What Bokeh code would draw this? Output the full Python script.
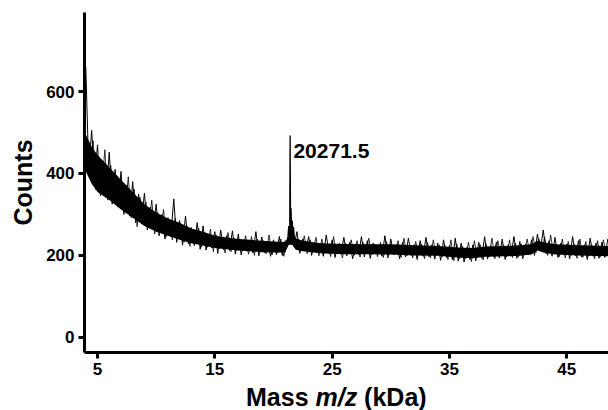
import numpy as np
from bokeh.plotting import figure
from bokeh.layouts import column
from bokeh.models import Label, Range1d, FixedTicker, Div
from bokeh.embed import file_html
from bokeh.resources import INLINE

# ---- data ----
x_ticks = [5, 15, 25, 35, 45]
y_ticks = [0, 200, 400, 600]

# dense core of the noisy spectrum (kDa, counts)
band_x = [4.0, 4.5, 5, 6, 7, 8, 9, 10, 11, 12, 13, 14, 15, 16, 17, 18, 19, 20, 21.0,
          21.3, 21.6, 21.9, 22.5, 24, 26, 28, 30, 32, 34, 36, 37, 38, 40, 41, 42,
          42.5, 43, 44, 46, 48.6]
band_lo = [405, 375, 355, 335, 312, 292, 272, 258, 248, 238, 230, 224, 218, 215, 212,
           210, 208, 207, 207, 226, 226, 214, 210, 205, 203, 203, 202, 200, 199, 194,
           193, 197, 198, 199, 202, 212, 207, 202, 200, 198]
band_hi = [495, 465, 445, 415, 385, 355, 325, 305, 290, 280, 266, 258, 248, 244, 240,
           238, 236, 234, 233, 248, 256, 242, 236, 230, 228, 227, 227, 225, 223, 219,
           218, 222, 223, 225, 227, 236, 232, 227, 225, 223]

# zig-zag noise traces, sampled every 0.25 kDa (second trace offset by 0.125 kDa)
noise_step = 0.25
noise_start = 4.0
noise_y = [
    660, 410, 505, 385,
    470, 345, 430, 352,
    452, 325, 410, 318,
    405, 300, 372, 296,
    380, 280, 350, 286,
    352, 262, 318, 266,
    325, 248, 300, 240,
    292, 246, 338, 232,
    285, 225, 296, 228,
    268, 224, 280, 215,
    272, 213, 250, 218,
    258, 205, 262, 214,
    248, 212, 260, 203,
    252, 201, 238, 210,
    236, 206, 258, 199,
    245, 207, 232, 198,
    238, 202, 246, 200,
    236, 228, 262, 222,
    258, 205, 240, 212,
    246, 200, 232, 206,
    230, 198, 250, 204,
    238, 195, 226, 203,
    244, 199, 232, 192,
    228, 202, 246, 196,
    236, 193, 230, 203,
    226, 198, 248, 194,
    240, 201, 228, 192,
    232, 196, 242, 200,
    226, 190, 236, 198,
    244, 197, 226, 191,
    230, 188, 238, 195,
    224, 190, 242, 186,
    230, 184, 220, 190,
    226, 187, 232, 193,
    246, 191, 224, 197,
    232, 194, 240, 190,
    226, 198, 246, 193,
    234, 192, 228, 202,
    238, 200, 252, 214,
    262, 204, 236, 198,
    244, 195, 230, 201,
    228, 192, 246, 199,
    236, 196, 226, 190,
    242, 198, 230, 193,
    232, 195, 240,
]
noise2_start = 4.125
noise2_y = [
    470, 395, 480, 360,
    440, 368, 458, 335,
    420, 340, 395, 330,
    380, 318, 392, 292,
    362, 270, 342, 278,
    330, 270, 335, 252,
    305, 258, 312, 246,
    285, 238, 290, 240,
    276, 232, 272, 222,
    262, 228, 266, 220,
    255, 220, 264, 209,
    250, 216, 244, 206,
    256, 209, 242, 212,
    240, 212, 248, 203,
    246, 200, 240, 208,
    236, 204, 250, 201,
    232, 206, 240, 198,
    225, 240, 248, 236,
    232, 214, 248, 204,
    238, 210, 244, 199,
    240, 205, 228, 197,
    246, 204, 230, 194,
    230, 205, 238, 200,
    236, 196, 232, 205,
    242, 202, 226, 197,
    232, 195, 234, 202,
    224, 204, 236, 195,
    242, 199, 226, 194,
    234, 201, 228, 192,
    232, 194, 238, 199,
    226, 196, 224, 190,
    238, 187, 228, 192,
    222, 192, 232, 185,
    236, 195, 226, 189,
    228, 196, 242, 192,
    236, 200, 226, 196,
    238, 195, 230, 196,
    228, 201, 240, 204,
    246, 207, 240, 216,
    244, 200, 250, 205,
    228, 197, 240, 194,
    234, 200, 228, 193,
    240, 195, 234, 198,
    226, 192, 236, 197,
    238, 200, 228,
]
noise_x = noise_start + noise_step * np.arange(len(noise_y))
noise2_x = noise2_start + noise_step * np.arange(len(noise2_y))

# the peak
peak_x = [21.0, 21.2, 21.3, 21.38, 21.42, 21.46, 21.5, 21.55, 21.6, 21.65, 21.7, 21.8, 22.0]
peak_y = [215, 230, 272, 240, 493, 235, 315, 240, 285, 245, 270, 240, 225]
peak_label = "20271.5"
peak_label_x = 21.7
peak_label_y = 456

FONT = "Liberation Sans"

p = figure(width=608, height=384, output_backend="svg", toolbar_location=None,
           x_range=Range1d(3.89, 48.56), y_range=Range1d(-37, 793),
           min_border_left=84, min_border_right=0, min_border_top=12,
           min_border_bottom=32)
p.outline_line_color = None
p.grid.visible = False
p.background_fill_color = "white"
p.border_fill_color = "white"

p.varea(x=band_x, y1=band_lo, y2=band_hi, fill_color="black")
p.line(noise_x, noise_y, line_color="black", line_width=1)
p.line(noise2_x, noise2_y, line_color="black", line_width=0.8)
p.line(peak_x, peak_y, line_color="black", line_width=1.3)

for ax in (p.xaxis[0], p.yaxis[0]):
    ax.axis_line_width = 3
    ax.axis_line_color = "black"
    ax.major_tick_line_width = 3
    ax.major_tick_line_color = "black"
    ax.major_tick_out = 6
    ax.major_tick_in = 0
    ax.minor_tick_out = 0
    ax.minor_tick_in = 0
    ax.major_label_text_font = FONT
    ax.major_label_text_font_style = "bold"
    ax.major_label_text_font_size = "17px"
    ax.major_label_text_color = "black"
    ax.major_label_standoff = 4

p.xaxis[0].ticker = FixedTicker(ticks=x_ticks)
p.yaxis[0].ticker = FixedTicker(ticks=y_ticks)
p.xaxis[0].axis_label = None
p.yaxis[0].axis_label = "Counts"
p.yaxis[0].axis_label_text_font = FONT
p.yaxis[0].axis_label_text_font_style = "bold"
p.yaxis[0].axis_label_text_font_size = "25px"
p.yaxis[0].axis_label_text_color = "black"
p.yaxis[0].axis_label_standoff = 6

p.add_layout(Label(x=peak_label_x, y=peak_label_y, text=peak_label,
                   text_font=FONT, text_font_style="bold", text_font_size="21px",
                   text_color="black", text_baseline="alphabetic"))

x_title = Div(text='<div style="margin-left:241px; white-space:nowrap; '
                   'font-family:\'Liberation Sans\'; font-weight:bold; font-size:25px; '
                   'line-height:16px; color:black;">Mass <i>m/z</i> (kDa)</div>',
              width=608, height=26)

layout = column(p, x_title, spacing=0)
open("out.html", "w").write(file_html(layout, INLINE))
